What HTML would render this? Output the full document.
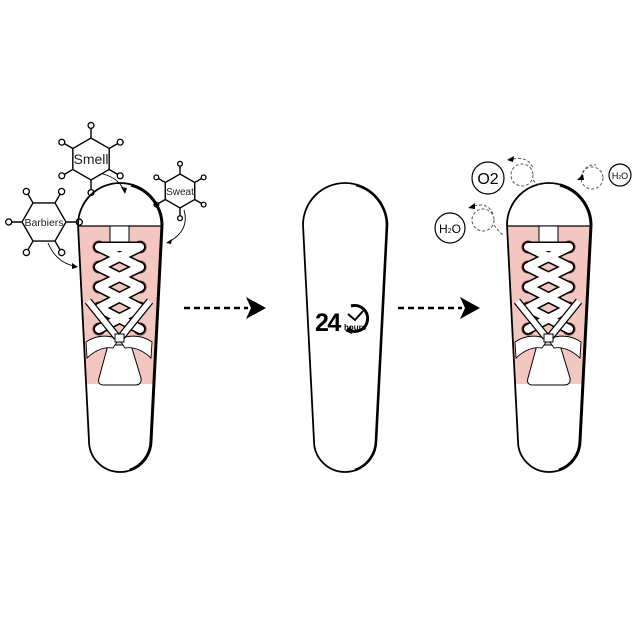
<!DOCTYPE html>
<html><head><meta charset="utf-8"><style>html,body{margin:0;padding:0;background:#fff}svg{display:block}</style></head>
<body>
<svg width="640" height="640" viewBox="0 0 640 640" xmlns="http://www.w3.org/2000/svg" font-family="Liberation Sans, sans-serif">
<defs>
<clipPath id="sc"><path d="M78,225 A42,42 0 0 1 162,225 L151,441 A31,31 0 0 1 89,441 Z"/></clipPath>
<g id="laced">
  <g clip-path="url(#sc)">
    <rect x="70" y="226" width="100" height="158" fill="#f4c6c0"/>
  </g>
  <line x1="79" y1="226" x2="161" y2="226" stroke="#000" stroke-width="1.2"/>
  <rect x="110" y="226" width="19" height="16" fill="#fff" stroke="#000" stroke-width="1"/>
  <g fill="#5a2a2a">
    <circle cx="99" cy="247" r="6.5"/><circle cx="140" cy="247" r="6.5"/>
    <circle cx="99" cy="267" r="6.5"/><circle cx="140" cy="267" r="6.5"/>
    <circle cx="99" cy="287" r="6.5"/><circle cx="140" cy="287" r="6.5"/>
    <circle cx="99" cy="308" r="6.5"/><circle cx="140" cy="308" r="6.5"/>
    <circle cx="99" cy="329" r="6.5"/><circle cx="140" cy="329" r="6.5"/>
  </g>
  <g stroke-linecap="round">
    <path stroke="#000" stroke-width="11" d="M99,247 L140,247 M99,247 L140,267 M140,247 L99,267 M99,267 L140,287 M140,267 L99,287 M99,287 L140,308 M140,287 L99,308 M99,308 L140,329 M140,308 L99,329"/>
    <path stroke="#fff" stroke-width="8" d="M99,247 L140,247 M99,247 L140,267 M140,247 L99,267 M99,267 L140,287 M140,267 L99,287 M99,287 L140,308 M140,287 L99,308 M99,308 L140,329 M140,308 L99,329"/>
  </g>
  <path d="M108,345 L131,345 L141,378 Q142,385 135,385 L104,385 Q97,385 99,378 Z" fill="#fff" stroke="#000" stroke-width="1"/>
  <path d="M119,339 Q100,332 86,342 L87,358 Q100,346 113,348 Z" fill="#fff" stroke="#000" stroke-width="0.9"/>
  <path d="M119,339 Q138,332 152,342 L151,358 Q138,346 125,348 Z" fill="#fff" stroke="#000" stroke-width="0.9"/>
  <path d="M88,301 L117,337 M150,301 L121,337" stroke="#000" stroke-width="8"/>
  <path d="M88,301 L117,337 M150,301 L121,337" stroke="#fff" stroke-width="5.5"/>
  <rect x="115" y="334" width="9" height="8" fill="#fff" stroke="#000" stroke-width="1"/>
</g>
<g id="outline">
  <path d="M78,225 A42,42 0 0 1 162,225 L151,441 A31,31 0 0 1 89,441 Z" fill="none" stroke="#000" stroke-width="1.8"/>
  <path d="M131,185 A42,42 0 0 1 162,225 L151,441 A31,31 0 0 1 130,470" fill="none" stroke="#000" stroke-width="3"/>
</g>
<g id="hex">
  <path d="M0,-1 L0.866,-0.5 L0.866,0.5 L0,1 L-0.866,0.5 L-0.866,-0.5 Z" fill="#fff" stroke="#000" stroke-width="1.4" vector-effect="non-scaling-stroke"/>
  <path d="M0,-1 L0,-1.5 M0.866,-0.5 L1.3,-0.75 M0.866,0.5 L1.3,0.75 M0,1 L0,1.5 M-0.866,0.5 L-1.3,0.75 M-0.866,-0.5 L-1.3,-0.75" stroke="#000" stroke-width="1.4" vector-effect="non-scaling-stroke"/>
  <g fill="#fff" stroke="#000" stroke-width="1.3">
    <circle cx="0" cy="-1.6" r="0.14" vector-effect="non-scaling-stroke"/>
    <circle cx="1.39" cy="-0.8" r="0.14" vector-effect="non-scaling-stroke"/>
    <circle cx="1.39" cy="0.8" r="0.14" vector-effect="non-scaling-stroke"/>
    <circle cx="0" cy="1.6" r="0.14" vector-effect="non-scaling-stroke"/>
    <circle cx="-1.39" cy="0.8" r="0.14" vector-effect="non-scaling-stroke"/>
    <circle cx="-1.39" cy="-0.8" r="0.14" vector-effect="non-scaling-stroke"/>
  </g>
</g>
</defs>

<use href="#hex" transform="translate(91,159) scale(21)"/>
<use href="#hex" transform="translate(180,191) scale(17)"/>
<use href="#hex" transform="translate(44,222) rotate(30) scale(22)"/>
<text x="91" y="164" font-size="14" fill="#222" text-anchor="middle">Smell</text>
<text x="180" y="195" font-size="10" fill="#222" text-anchor="middle">Sweat</text>
<text x="44" y="226" font-size="10.5" fill="#222" text-anchor="middle">Barbiers</text>

<g fill="none" stroke="#000" stroke-width="0.9">
  <path d="M103,174 Q118,178 124,190"/>
  <path d="M184,210 Q190,230 169,242"/>
  <path d="M48,243 Q56,262 74,266"/>
</g>
<g fill="#000">
  <path d="M125,194 L121,187 L127,188 Z"/>
  <path d="M166,243 L172,239 L171,244 Z"/>
  <path d="M78,267 L72,263 L72,269 Z"/>
</g>

<use href="#laced"/>
<use href="#outline"/>

<g transform="translate(225,0)">
  <path d="M78,225 A42,42 0 0 1 162,225 L151,441 A31,31 0 0 1 89,441 Z" fill="none" stroke="#000" stroke-width="1.8"/>
  <path d="M131,185 A42,42 0 0 1 162,225 L151,441 A31,31 0 0 1 130,470" fill="none" stroke="#000" stroke-width="2.6"/>
</g>
<text x="315" y="331" font-size="25" font-weight="bold" fill="#000" letter-spacing="-1.5">24</text>
<path d="M347,329 A13,13 0 1 0 351,306" fill="none" stroke="#000" stroke-width="3"/>
<path d="M345,331 L351,326 L352,334 Z" fill="#000"/>
<path d="M348,314 L355,320 L363,311" fill="none" stroke="#000" stroke-width="2"/>
<text x="344" y="330" font-size="8" font-weight="bold" fill="#000">hours</text>

<g transform="translate(429,0)">
  <use href="#laced"/>
  <use href="#outline"/>
</g>

<g stroke="#000" stroke-width="2.4" stroke-dasharray="6,4">
  <line x1="184" y1="308" x2="248" y2="308"/>
  <line x1="398" y1="308" x2="462" y2="308"/>
</g>
<g fill="#000">
  <path d="M246,297 L266,308 L246,319 L251,308 Z"/>
  <path d="M460,297 L480,308 L460,319 L465,308 Z"/>
</g>

<g fill="#fff" stroke="#000" stroke-width="1.2">
  <circle cx="488" cy="178" r="16"/>
  <circle cx="450" cy="228" r="15"/>
  <circle cx="620" cy="175" r="11"/>
</g>
<g fill="none" stroke="#555" stroke-width="1" stroke-dasharray="3,2">
  <circle cx="522" cy="175" r="11"/>
  <circle cx="483" cy="220" r="11"/>
  <circle cx="592" cy="178" r="11"/>
  <path d="M513,159 Q528,156 533,168"/>
  <path d="M474,206 Q488,202 493,214"/>
  <path d="M583,173 Q586,164 596,165"/>
  <path d="M533,180 Q538,186 541,183"/>
  <path d="M494,225 Q500,233 503,235"/>
</g>
<g fill="#000">
  <path d="M507,160 L514,156 L513,162 Z"/>
  <path d="M468,208 L475,203 L475,209 Z"/>
  <path d="M577,180 L583,174 L584,180 Z"/>
</g>
<g fill="#000">
  <text x="488" y="184" font-size="16" text-anchor="middle">O2</text>
  <text x="450" y="233" font-size="12" text-anchor="middle">H<tspan font-size="7">2</tspan>O</text>
  <text x="620" y="179" font-size="9" text-anchor="middle">H<tspan font-size="5">2</tspan>O</text>
</g>
</svg>
</body></html>
